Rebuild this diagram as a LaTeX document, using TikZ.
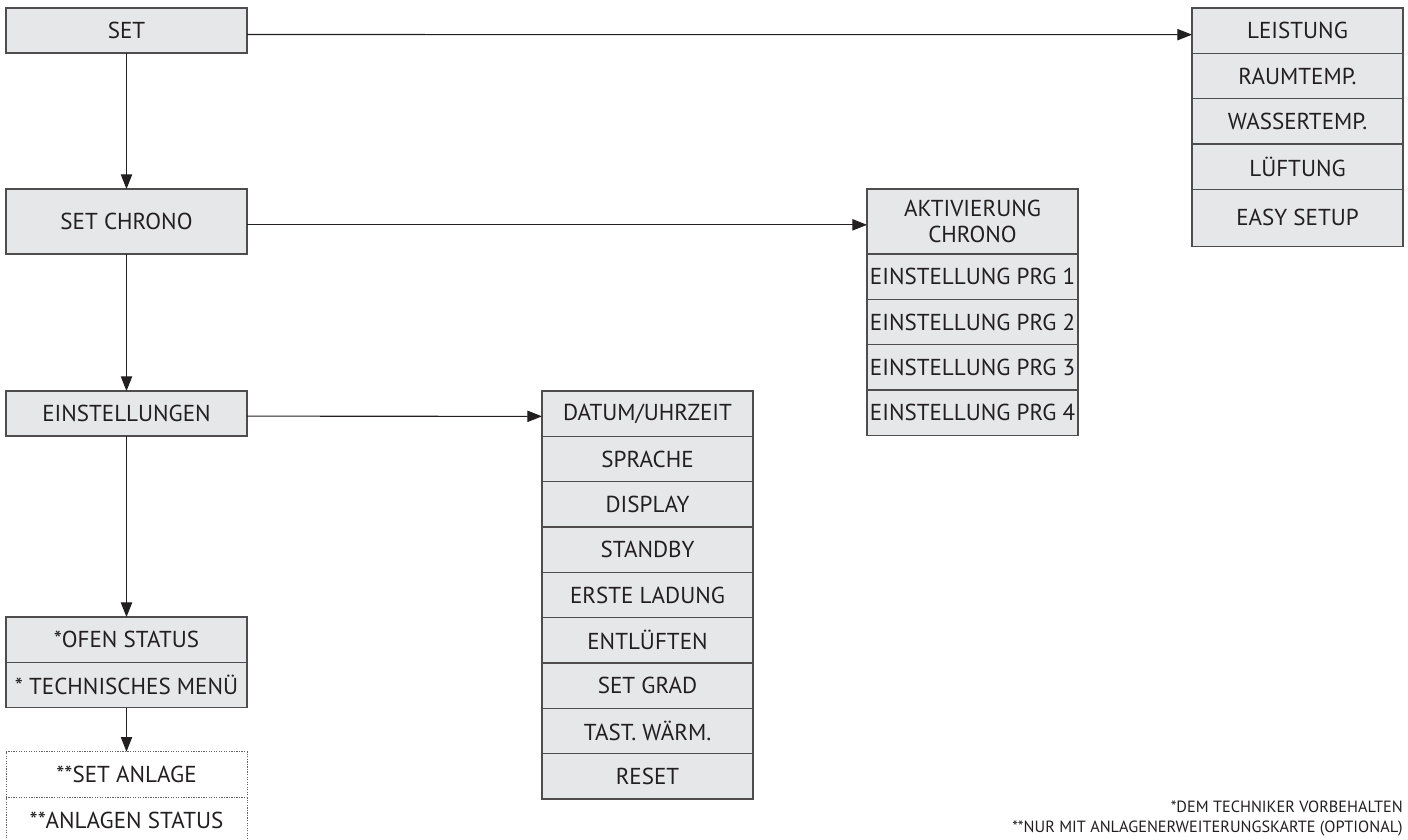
\documentclass[tikz,border=0pt]{standalone}
\usepackage{fontspec}
\setmainfont{PT Sans}
\usepackage{xcolor}
\usetikzlibrary{positioning,arrows.meta}

\definecolor{boxgray}{RGB}{230,231,232}
\definecolor{inkgray}{RGB}{35,31,32}

\begin{document}
\begin{tikzpicture}[
        x=0.75pt, y=-0.75pt,
        >={Triangle[length=11pt,width=8.5pt]},
        menu/.style={rectangle, draw=inkgray!80, fill=boxgray, line width=0.9pt, outer sep=0pt, inner sep=0pt, minimum width=180.75pt, minimum height=33.75pt, align=center, text=inkgray, font=\fontsize{17.3}{20}\selectfont},
        item/.style={menu, minimum width=158.25pt, minimum height=34pt},
        opt/.style={menu, fill=white, draw=inkgray!70, densely dotted, line width=0.6pt, minimum height=34.5pt},
        link/.style={->, line width=0.8pt, inkgray}
    ]
    \useasboundingbox (0,0) rectangle (1408,839);

    % Main menu
    \node[menu, anchor=north west] (set) at (6,8) {SET};
    \node[menu, minimum height=48.75pt, below=102pt of set] (chrono) {SET CHRONO};
    \node[menu, below=102.75pt of chrono] (einst) {EINSTELLUNGEN};
    \node[menu, minimum height=34pt, below=135.75pt of einst] (ofen) {*OFEN STATUS};
    \node[menu, minimum height=34pt, below=0pt of ofen] (tech) {* TECHNISCHES MENÜ};
    \node[opt, below=33pt of tech] (anlage) {**SET ANLAGE};
    \node[opt, below=0pt of anlage] (astatus) {**ANLAGEN STATUS};

    % SET
    \node[item, anchor=north west] (leist) at (1192,8) {LEISTUNG};
    \node[item, below=0pt of leist] (raum) {RAUMTEMP.};
    \node[item, below=0pt of raum] (wasser) {WASSERTEMP.};
    \node[item, below=0pt of wasser] (lueft) {LÜFTUNG};
    \node[item, minimum height=42.75pt, below=0pt of lueft] (easy) {EASY SETUP};

    % SET CHRONO
    \node[item, minimum height=48.75pt, anchor=north west] (aktiv) at (867,189) {AKTIVIERUNG\\CHRONO};
    \node[item, below=0pt of aktiv] (prg1) {EINSTELLUNG PRG 1};
    \node[item, below=0pt of prg1] (prg2) {EINSTELLUNG PRG 2};
    \node[item, below=0pt of prg2] (prg3) {EINSTELLUNG PRG 3};
    \node[item, below=0pt of prg3] (prg4) {EINSTELLUNG PRG 4};

    % EINSTELLUNGEN
    \node[item, anchor=north west] (datum) at (542,391) {DATUM/UHRZEIT};
    \node[item, below=0pt of datum] (sprache) {SPRACHE};
    \node[item, below=0pt of sprache] (display) {DISPLAY};
    \node[item, below=0pt of display] (standby) {STANDBY};
    \node[item, below=0pt of standby] (ladung) {ERSTE LADUNG};
    \node[item, below=0pt of ladung] (entlueft) {ENTLÜFTEN};
    \node[item, below=0pt of entlueft] (grad) {SET GRAD};
    \node[item, below=0pt of grad] (tast) {TAST. WÄRM.};
    \node[item, below=0pt of tast] (reset) {RESET};

    % Notes
    \node[anchor=north east, align=right, inner sep=0pt, text=inkgray, font=\fontsize{12.2}{15}\selectfont] (notes) at (1403,801) {*DEM TECHNIKER VORBEHALTEN\\**NUR MIT ANLAGENERWEITERUNGSKARTE (OPTIONAL)};

    % Connections
    \draw[link] (set) -- (chrono);
    \draw[link] (chrono) -- (einst);
    \draw[link] (einst) -- (ofen);
    \draw[link] (tech) -- (anlage);

    \draw[link] ([yshift=-3pt]set.east) -- ([yshift=-3pt]leist.west);
    \draw[link] ([yshift=-2.5pt]chrono.east) -- ([yshift=-2.5pt]aktiv.west);
    \draw[link] ([yshift=-2pt]einst.east) -- ([yshift=-2pt]datum.west);

\end{tikzpicture}
\end{document}
